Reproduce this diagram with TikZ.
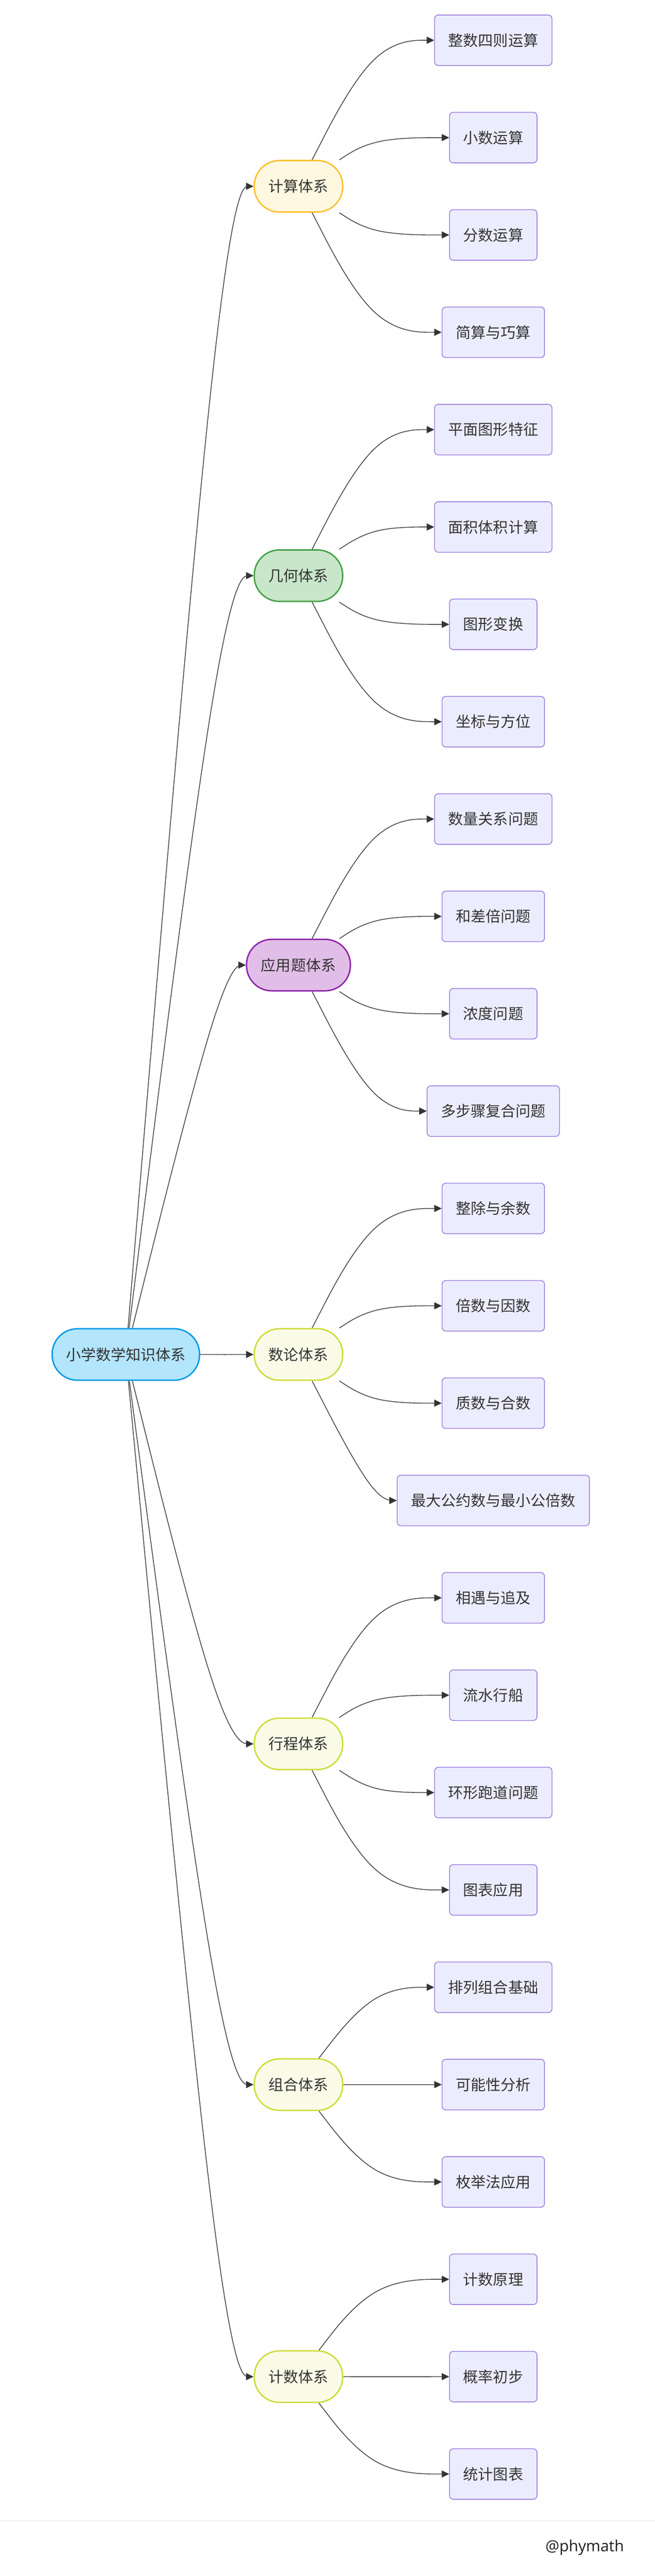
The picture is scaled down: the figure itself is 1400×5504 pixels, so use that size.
\documentclass[tikz,border=0pt]{standalone}
\usepackage{fontspec}
\newfontfamily\cjk{Noto Sans CJK SC}
\newfontfamily\sig{Open Sans}
\usetikzlibrary{arrows.meta,calc,backgrounds}
\definecolor{leafFill}{HTML}{ECECFF}
\definecolor{leafLine}{HTML}{9370DB}
\definecolor{edgeCol}{HTML}{333333}
\definecolor{textCol}{HTML}{333333}
\definecolor{rootFill}{HTML}{B3E5FC}
\definecolor{rootLine}{HTML}{039BE5}
\definecolor{calcFill}{HTML}{FFF8E1}
\definecolor{calcLine}{HTML}{FBC02D}
\definecolor{geoFill}{HTML}{C8E6C9}
\definecolor{geoLine}{HTML}{43A047}
\definecolor{appFill}{HTML}{E1BEE7}
\definecolor{appLine}{HTML}{8E24AA}
\definecolor{limeFill}{HTML}{F9FBE7}
\definecolor{limeLine}{HTML}{CDDC39}
\definecolor{sepCol}{HTML}{E3E3E3}
\definecolor{sigCol}{HTML}{1E1E1E}
\tikzset{
  cjkfont/.style={font=\cjk\fontsize{32pt}{38pt}\selectfont, text=textCol},
  leafnode/.style={cjkfont, draw=leafLine, fill=leafFill, line width=1.5pt,
    rounded corners=8pt, minimum height=108pt, inner ysep=0pt, inner xsep=0pt},
  midnode/.style={cjkfont, line width=3pt, rounded corners=54pt,
    minimum height=110pt, inner ysep=0pt, inner xsep=0pt},
  calcnode/.style={midnode, draw=calcLine, fill=calcFill},
  geonode/.style={midnode, draw=geoLine, fill=geoFill},
  appnode/.style={midnode, draw=appLine, fill=appFill},
  limenode/.style={midnode, draw=limeLine, fill=limeFill},
  rootnode/.style={cjkfont, draw=rootLine, fill=rootFill, line width=3pt,
    rounded corners=54pt, minimum height=110pt, minimum width=315pt, inner ysep=0pt, inner xsep=0pt},
  w4/.style={minimum width=187pt}, w5/.style={minimum width=219pt},
  w6/.style={minimum width=251pt}, w7/.style={minimum width=283pt},
  w11/.style={minimum width=411pt},
  mw4/.style={minimum width=189pt}, mw5/.style={minimum width=222pt},
  conn/.style={draw=edgeCol, line width=1.5pt, -{Triangle[length=16pt,width=15pt]}},
  sepline/.style={draw=sepCol, line width=1.5pt},
}
% basis-spline connector: #1 source node, #2 x of the dummy point, #3 target node
\newcommand{\bsedge}[3]{%
  \coordinate (bX) at (#2,0);
  \coordinate (bE) at (#3.west);
  \coordinate (bP) at (bX |- bE);
  \path (#1) -- coordinate[pos=0] (bS) (bP);
  \draw[conn] (bS) -- ($(bS)!0.1666667!(bP)$)
    .. controls ($(bS)!0.3333333!(bP)$) and ($(bS)!0.6666667!(bP)$)
    .. ($0.1666667*(bS)+0.6666667*(bP)+0.1666667*(bE)$)
    .. controls ($0.6666667*(bP)+0.3333333*(bE)$) and ($0.3333333*(bP)+0.6666667*(bE)$)
    .. ($0.1666667*(bP)+0.8333333*(bE)$) -- (bE);
}
\begin{document}
\begin{tikzpicture}[x=1pt,y=-1pt]
\useasboundingbox (0,0) rectangle (1400,5504);
% root
\node[rootnode] (root) at (269,2894) {小学数学知识体系};
% mid nodes
\node[calcnode,mw4] (m1) at (638,398) {计算体系};
\node[geonode,mw4]  (m2) at (638,1230) {几何体系};
\node[appnode,mw5]  (m3) at (638,2062) {应用题体系};
\node[limenode,mw4] (m4) at (638,2894) {数论体系};
\node[limenode,mw4] (m5) at (638,3726) {行程体系};
\node[limenode,mw4] (m6) at (638,4454) {组合体系};
\node[limenode,mw4] (m7) at (638,5078) {计数体系};
% leaves
\node[leafnode,w6] (l1a) at (1054.5,86)   {整数四则运算};
\node[leafnode,w4] (l1b) at (1054.5,294)  {小数运算};
\node[leafnode,w4] (l1c) at (1054.5,502)  {分数运算};
\node[leafnode,w5] (l1d) at (1054.5,710)  {简算与巧算};
\node[leafnode,w6] (l2a) at (1054.5,918)  {平面图形特征};
\node[leafnode,w6] (l2b) at (1054.5,1126) {面积体积计算};
\node[leafnode,w4] (l2c) at (1054.5,1334) {图形变换};
\node[leafnode,w5] (l2d) at (1054.5,1542) {坐标与方位};
\node[leafnode,w6] (l3a) at (1054.5,1750) {数量关系问题};
\node[leafnode,w5] (l3b) at (1054.5,1958) {和差倍问题};
\node[leafnode,w4] (l3c) at (1054.5,2166) {浓度问题};
\node[leafnode,w7] (l3d) at (1054.5,2374) {多步骤复合问题};
\node[leafnode,w5] (l4a) at (1054.5,2582) {整除与余数};
\node[leafnode,w5] (l4b) at (1054.5,2790) {倍数与因数};
\node[leafnode,w5] (l4c) at (1054.5,2998) {质数与合数};
\node[leafnode,w11] (l4d) at (1054.5,3206) {最大公约数与最小公倍数};
\node[leafnode,w5] (l5a) at (1054.5,3414) {相遇与追及};
\node[leafnode,w4] (l5b) at (1054.5,3622) {流水行船};
\node[leafnode,w6] (l5c) at (1054.5,3830) {环形跑道问题};
\node[leafnode,w4] (l5d) at (1054.5,4038) {图表应用};
\node[leafnode,w6] (l6a) at (1054.5,4246) {排列组合基础};
\node[leafnode,w5] (l6b) at (1054.5,4454) {可能性分析};
\node[leafnode,w5] (l6c) at (1054.5,4662) {枚举法应用};
\node[leafnode,w4] (l7a) at (1054.5,4870) {计数原理};
\node[leafnode,w4] (l7b) at (1054.5,5078) {概率初步};
\node[leafnode,w4] (l7c) at (1054.5,5286) {统计图表};
% footer
\node[anchor=base east, font=\sig\fontsize{33pt}{40pt}\selectfont, text=sigCol, inner sep=0pt] (sig) at (1334,5452) {@phymath};
\begin{scope}[on background layer]
\fill[white] (0,0) rectangle (1400,5504);
\draw[sepline] (0,5387) -- (1400,5387);
\foreach \m in {m1,m2,m3,m4,m5,m6,m7} { \bsedge{root}{477}{\m} }
\foreach \l in {l1a,l1b,l1c,l1d} { \bsedge{m1}{799}{\l} }
\foreach \l in {l2a,l2b,l2c,l2d} { \bsedge{m2}{799}{\l} }
\foreach \l in {l3a,l3b,l3c,l3d} { \bsedge{m3}{799}{\l} }
\foreach \l in {l4a,l4b,l4c,l4d} { \bsedge{m4}{799}{\l} }
\foreach \l in {l5a,l5b,l5c,l5d} { \bsedge{m5}{799}{\l} }
\foreach \l in {l6a,l6b,l6c} { \bsedge{m6}{799}{\l} }
\foreach \l in {l7a,l7b,l7c} { \bsedge{m7}{799}{\l} }
\end{scope}
\end{tikzpicture}
\end{document}
